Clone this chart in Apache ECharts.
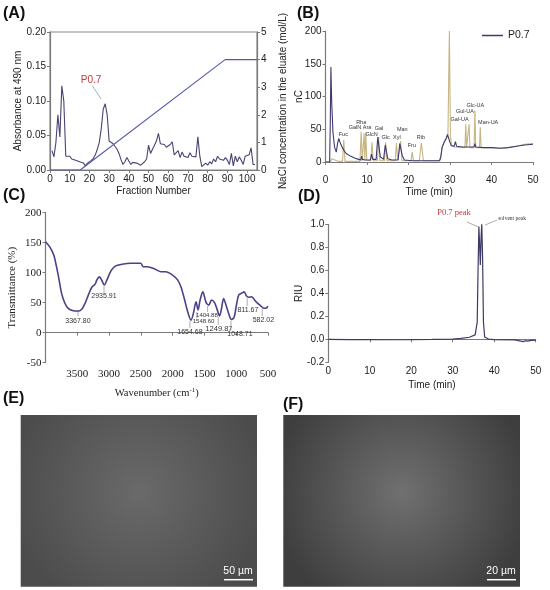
<!DOCTYPE html>
<html><head><meta charset="utf-8">
<script src="https://cdn.jsdelivr.net/npm/echarts@6/dist/echarts.min.js"></script>
<style>html,body{margin:0;padding:0;background:#fff}#c{width:550px;height:590px}</style>
</head><body><div id="c"></div>
<script>
// (A) DEAE elution profile
var fractionNo = [];
for (var i = 1; i <= 104; i++) fractionNo.push(i);
var absorbance = [0.028,0.019,0.040,0.080,0.048,0.122,0.100,0.020,0.018,0.020,
  0.016,0.017,0.014,0.013,0.012,0.011,0.010,0.006,0.010,0.012,
  0.014,0.017,0.022,0.030,0.040,0.060,0.088,0.096,0.080,0.042,
  0.040,0.038,0.034,0.030,0.024,0.015,0.008,0.012,0.018,0.017,
  0.008,0.011,0.009,0.010,0.008,0.007,0.009,0.012,0.016,0.036,
  0.024,0.030,0.036,0.042,0.053,0.038,0.036,0.037,0.033,0.034,
  0.037,0.041,0.022,0.021,0.028,0.018,0.026,0.020,0.022,0.018,
  0.025,0.020,0.018,0.019,0.048,0.020,0.005,0.006,0.010,0.007,
  0.012,0.009,0.016,0.012,0.020,0.016,0.015,0.014,0.018,0.014,
  0.008,0.024,0.006,0.020,0.012,0.019,0.014,0.008,0.020,0.018,
  0.022,0.032,0.008,0.008];
var naclFraction = [0, 15.3, 88.8, 105];
var naclConc = [0, 0, 4, 4];

// (B) monosaccharide composition, P0.7 vs standards
var bTimeP07 = [0,1.0,1.15,1.3,1.5,1.8,2.2,2.6,2.9,3.2,3.5,3.9,4.5,5,6,7,8,8.5,8.7,8.9,9.5,10.8,11.1,11.4,12.2,12.6,12.9,13.2,14.0,14.4,14.7,15.0,16,17.5,17.9,18.2,18.5,19,21,24,27.5,27.8,28.1,28.6,29.1,29.4,29.7,30.0,30.3,31.0,31.3,31.6,33,35.8,36.0,36.2,38,40,42,44,46,48,50];
var bP07     = [0,0,60,145,90,45,22,15,28,36,30,24,17,13,9,6,4,3,9,4,3,3,12,4,4,38,40,8,4,26,27,5,3,3,28,31,10,3,2,2,2,8,22,30,36,42,45,30,25,24,31,24,23,23,28,23,22,22,21,22,24,26,27];
var bTimeStd = [0,1.2,1.5,1.9,3,4.1,4.4,4.7,8.3,8.6,8.85,9.1,9.3,9.5,9.7,9.95,10.9,11.2,11.5,12.5,12.8,13.1,14.2,14.5,14.8,16.8,17.1,17.4,17.8,18.1,18.4,20.6,20.9,21.2,22.6,23.1,23.6,27.5,27.8,28.1,28.6,29.1,29.5,29.85,30.1,30.4,31,33.6,33.8,34.0,34.4,34.6,34.8,35.8,36.0,36.2,37.1,37.3,37.5,40,43,46,48,50];
var bStd     = [0,0,5,2,1,1,34,1,1,46,2,2,44,3,45,3,2,30,2,2,38,2,2,30,2,2,29,3,3,32,2,2,15,2,2,29,2,2,10,24,31,37,42,200,40,25,23,22,58,22,22,58,22,22,79,22,22,53,22,22,21,24,27,28];
var sugarNames = ['Fuc','GalN','Rha','Ara','GlcN','Gal','Glc','Xyl','Man','Fru','Rib','Gal-UA','Gul-UA','Glc-UA','Man-UA'];
var sugarTime  = [4.3,7.1,8.6,10.0,11.1,12.9,14.5,17.2,18.5,20.8,23.0,32.3,33.6,36.1,39.2];
var sugarLevel = [38,48,55,48,38,47,33,33,45,20,33,61,73,82,56];

// (C) FT-IR spectrum
var wavenumber = [4000,3933,3870,3827,3786,3748,3695,3643,3563,3484,3430,3378,3325,3271,3219,3192,3151,3113,3076,3033,2970,2902,2795,2663,2505,2462,2398,2267,2187,2108,2002,1922,1870,1817,1763,1711,1674,1632,1600,1568,1525,1473,1430,1389,1341,1298,1262,1235,1198,1156,1119,1076,1033,997,960,917,875,838,802,759,690,627,563,520,500];
var transmittance = [151.7,143,129.5,110,88,66,49,40.7,36.7,36,39,49,63,75.7,81,88,93,87,79.5,88,103,111,114,115.7,115.7,110,110,105.5,101.7,101.7,96,88,76.7,57,35,21,32,51.7,38,54.5,68,50,46,54.5,50,38,28,38,57,44.5,32,22,25.7,46,63,65.7,68,61,59,60,51.7,46,40.7,41.7,44];
var irPeaks   = ['3367.80','2935.91','1654.68','1548.60','1404.88','1249.87','1048.71','811.67','582.02'];
var irMarkW   = [3489,3080,1728,1618,1450,1283,1083,827,591];
var irMarkTop = [36.2,77.8,19.5,34.5,44.5,26,20,57.8,39.5];
var irMarkEnd = [27.8,66.2,7.8,24.5,34.5,12.8,4.5,44.5,27.8];
var irTextW   = [3489,3080,1728,1513,1461,1272,941,816,572];
var irTextT   = [19.5,61,1,19.5,29.5,6.7,-2.2,37.8,21];
var irTextSz  = [7,7,7,6,6,7.5,7,7,7];

// (D) HPGPC
var dTime = [0,5,10,15,20,25,30,32,34,35.4,35.9,36.1,36.3,36.45,36.65,36.85,37.0,37.2,37.4,37.7,38.6,40,45,47,47.5,48,49,50];
var dRiu  = [0,-0.002,-0.003,-0.004,-0.003,-0.001,0.002,0.008,0.018,0.038,0.15,0.6,0.98,0.85,0.646,0.9,1.0,0.7,0.15,0.02,0.002,-0.003,-0.005,-0.02,-0.012,-0.016,-0.01,-0.008];

function zip(a, b){ return a.map(function(v, i){ return [v, b[i]]; }); }

var SANS = 'Liberation Sans', SERIF = 'Liberation Serif';
var axCol = '#7a7a7a';
function axis(o, font, size){
  var base = {
    type:'value', splitLine:{show:false},
    axisLine:{show:true, lineStyle:{color:axCol, width:1.2}},
    axisTick:{show:true, length:3, lineStyle:{color:axCol}},
    axisLabel:{color:'#222', fontFamily:font, fontSize:size, margin:4},
    nameLocation:'middle', nameMoveOverlap:false,
    nameTextStyle:{color:'#222', fontFamily:font, fontSize:size}
  };
  for (var k in o) base[k] = o[k];
  return base;
}

var chart = echarts.init(document.getElementById('c'));
chart.setOption({
  animation:false,
  grid:[
    {left:50, top:32, width:207, height:138, show:true, borderColor:'#8a8a8a', borderWidth:1.2},
    {left:325.5, top:31, width:207.5, height:131},
    {left:45.5, top:212.7, width:222.5, height:150},
    {left:328.3, top:224.3, width:207.4, height:138}
  ],
  xAxis:[
    axis({gridIndex:0, min:0, max:105, interval:10, name:'Fraction Number', nameGap:16}, SANS, 10),
    axis({gridIndex:1, min:0, max:50, interval:10, offset:9, name:'Time (min)', nameGap:16}, SANS, 10),
    axis({gridIndex:2, min:500, max:4000, interval:500, inverse:true, nameGap:24,
      name:'Wavenumber (cm{s|-1})',
      axisLabel:{color:'#222', fontFamily:SERIF, fontSize:11, margin:6,
        formatter:function(v){ return v === 4000 ? '' : v; }},
      nameTextStyle:{color:'#222', fontFamily:SERIF, fontSize:10.5,
        rich:{s:{fontFamily:SERIF, fontSize:7, verticalAlign:'top', padding:[0,0,6,0]}}}}, SERIF, 11),
    axis({gridIndex:3, min:0, max:50, interval:10, name:'Time (min)', nameGap:18}, SANS, 10)
  ],
  yAxis:[
    axis({gridIndex:0, min:0, max:0.2, interval:0.05, name:'Absorbance at 490 nm', nameGap:27,
      axisLabel:{color:'#222', fontFamily:SANS, fontSize:10, margin:4,
        formatter:function(v){ return v.toFixed(2); }}}, SANS, 10),
    axis({gridIndex:0, min:0, max:5, interval:1, position:'right', name:'NaCl concentration in the eluate (mol/L)', nameGap:21}, SANS, 10),
    axis({gridIndex:1, min:0, max:200, interval:50, name:'nC', nameGap:21}, SANS, 10),
    axis({gridIndex:2, min:-50, max:200, interval:50, name:'Transmittance (%)', nameGap:28}, SERIF, 11),
    axis({gridIndex:3, min:-0.2, max:1.0, interval:0.2, name:'RIU', nameGap:24,
      axisLabel:{color:'#222', fontFamily:SANS, fontSize:10, margin:4,
        formatter:function(v){ return v.toFixed(1); }}}, SANS, 10)
  ],
  legend:{data:[{name:'P0.7', icon:'rect'}], left:482, top:30, padding:0, itemGap:4,
    itemWidth:21, itemHeight:1.5, textStyle:{fontFamily:SANS, fontSize:10.5, color:'#222'}},
  series:[
    {name:'Absorbance', type:'line', xAxisIndex:0, yAxisIndex:0, symbol:'none',
      data:zip(fractionNo, absorbance), lineStyle:{color:'#4d4270', width:1.1}},
    {name:'NaCl', type:'line', xAxisIndex:0, yAxisIndex:1, symbol:'none',
      data:zip(naclFraction, naclConc), lineStyle:{color:'#5558a8', width:1.1}},
    {name:'Standard', type:'line', xAxisIndex:1, yAxisIndex:2, symbol:'none',
      data:zip(bTimeStd, bStd), lineStyle:{color:'#c6b683', width:1.1}, itemStyle:{color:'#c6b683'}},
    {name:'P0.7', type:'line', xAxisIndex:1, yAxisIndex:2, symbol:'none',
      data:zip(bTimeP07, bP07), lineStyle:{color:'#3e3a70', width:1.1}, itemStyle:{color:'#3e3a70'}},
    {name:'FTIR', type:'line', xAxisIndex:2, yAxisIndex:3, symbol:'none', smooth:0.3,
      data:zip(wavenumber, transmittance), lineStyle:{color:'#4f3f85', width:1.6}},
    {name:'HPGPC', type:'line', xAxisIndex:3, yAxisIndex:4, symbol:'none',
      data:zip(dTime, dRiu), lineStyle:{color:'#3c3a66', width:1.2}}
  ]
});

function px(xi, yi, p){ return chart.convertToPixel({xAxisIndex:xi, yAxisIndex:yi}, p); }
function txt(x, y, s, o){
  var st = {x:x, y:y, text:s, fill:'#222', font:'10px ' + SANS, textAlign:'center', textVerticalAlign:'middle'};
  for (var k in o) st[k] = o[k];
  return {type:'text', style:st, z:100};
}
function seg(a, b, col, w){
  return {type:'line', shape:{x1:a[0], y1:a[1], x2:b[0], y2:b[1]}, style:{stroke:col || '#888', lineWidth:w || 0.8}, z:100};
}

var g = [];
// panel letters
[['(A)',3,14],['(B)',297,14],['(C)',3,196],['(D)',298,197],['(E)',3,399],['(F)',283,405]].forEach(function(t){
  g.push(txt(t[1], t[2], t[0], {font:'bold 16px ' + SANS, textAlign:'left', fill:'#111'}));
});

// A annotation
var pa = px(0, 0, [20.8, 0.130]);
g.push(txt(pa[0], pa[1], 'P0.7', {fill:'#c0393b', font:'10px ' + SANS}));
g.push(seg(px(0, 0, [21.5, 0.122]), px(0, 0, [25.9, 0.103]), '#999', 0.8));

// B sugar labels
sugarNames.forEach(function(n, i){
  var p = px(1, 2, [sugarTime[i], sugarLevel[i]]);
  g.push(txt(p[0], p[1], n, {font:'5.5px ' + SANS, fill:'#333', textVerticalAlign:'bottom'}));
});

// C peak labels
irPeaks.forEach(function(n, i){
  g.push(seg(px(2, 3, [irMarkW[i], irMarkTop[i]]), px(2, 3, [irMarkW[i], irMarkEnd[i]]), '#999', 0.8));
  var p = px(2, 3, [irTextW[i], irTextT[i]]);
  g.push(txt(p[0], p[1], n, {font:irTextSz[i] + 'px ' + SANS, fill:'#333'}));
});

// D peak labels
var d1 = px(3, 4, [30.3, 1.098]);
g.push(txt(d1[0], d1[1], 'P0.7 peak', {fill:'#c0393b', font:'8.5px ' + SERIF}));
g.push(seg(px(3, 4, [33.4, 1.02]), px(3, 4, [36.1, 0.978]), '#888', 0.7));
var d2 = px(3, 4, [44.3, 1.046]);
g.push(txt(d2[0], d2[1], 'solvent peak', {fill:'#333', font:'5.5px ' + SERIF}));
g.push(seg(px(3, 4, [40.7, 1.037]), px(3, 4, [37.8, 0.994]), '#888', 0.7));

// (E)/(F) SEM micrographs: plain grey panels with scale bars
function sem(x, y, w, h, c0, c1, bar){
  g.push({type:'rect', shape:{x:x, y:y, width:w, height:h},
    style:{fill:new echarts.graphic.RadialGradient(0.5, 0.45, 0.75,
      [{offset:0, color:c0}, {offset:1, color:c1}])}, z:1});
  g.push(txt(x + w - 19, y + h - 16, bar, {fill:'#fff', font:'10.5px ' + SANS}));
  g.push(seg([x + w - 33, y + h - 7], [x + w - 4, y + h - 7], '#fff', 1.5));
}
sem(20.7, 415, 236.3, 171.7, '#6a6a6a', '#4c4c4c', '50 µm');
sem(283.3, 415, 236.7, 171.7, '#707070', '#3e3e3e', '20 µm');

chart.setOption({graphic:g});
</script></body></html>
